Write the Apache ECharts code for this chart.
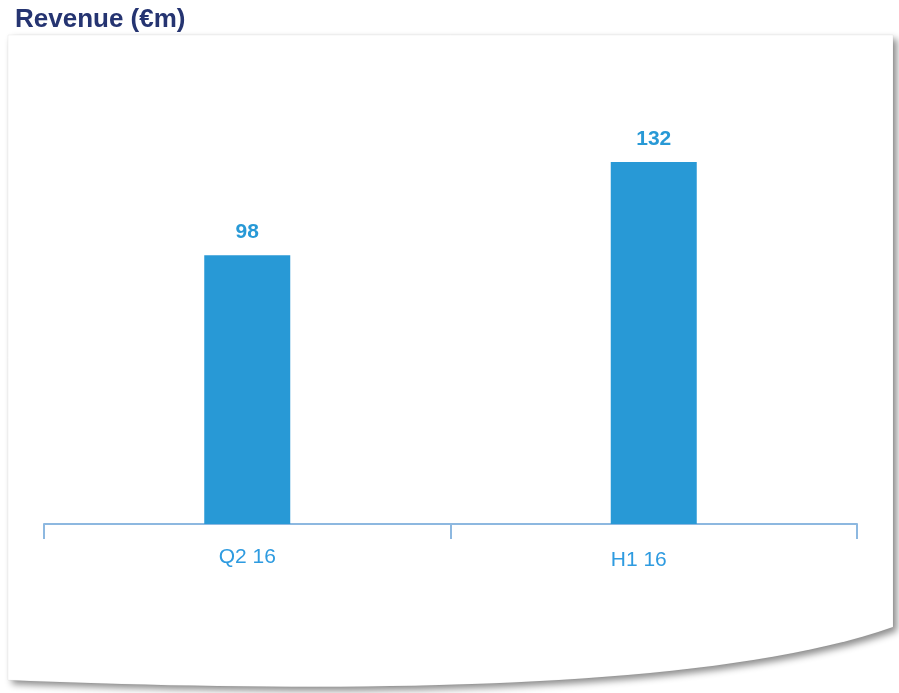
<!DOCTYPE html>
<html>
<head>
<meta charset="utf-8">
<script src="https://cdn.jsdelivr.net/npm/echarts@6/dist/echarts.min.js"></script>
<style>
html,body{margin:0;padding:0;background:#fff;}
#c{width:899px;height:693px;}
</style>
</head>
<body>
<div id="c"></div>
<script>
const titleText = 'Revenue (€m)';
const categories = ['Q2 16', 'H1 16'];
const revenue = [98, 132];

// decorative card outline (curved bottom edge)
function cardPoints() {
  const pts = [[8, 35], [893, 35], [893, 627]];
  const p0 = [893, 627], c1 = [700, 695], c2 = [300, 692], p3 = [8, 680];
  for (let i = 1; i <= 40; i++) {
    const t = i / 40, u = 1 - t;
    const x = u*u*u*p0[0] + 3*u*u*t*c1[0] + 3*u*t*t*c2[0] + t*t*t*p3[0];
    const y = u*u*u*p0[1] + 3*u*u*t*c1[1] + 3*u*t*t*c2[1] + t*t*t*p3[1];
    pts.push([x, y]);
  }
  return pts;
}

const chart = echarts.init(document.getElementById('c'));
const blue = '#2899D6';
const catData = categories.map((c, i) => i === 1
  ? { value: c, textStyle: { padding: [3, 30, 0, 0] } }
  : c);
chart.setOption({
  backgroundColor: '#fff',
  animation: false,
  title: {
    text: titleText,
    left: 10, top: 2,
    textStyle: { color: '#253471', fontSize: 26, fontWeight: 'bold', fontFamily: 'Liberation Sans, Arial, sans-serif' }
  },
  graphic: [{
    type: 'polygon',
    z: -10,
    shape: { points: cardPoints() },
    style: {
      fill: '#fff',
      stroke: 'rgba(0,0,0,0.04)',
      lineWidth: 1,
      shadowBlur: 7,
      shadowColor: 'rgba(0,0,0,0.45)',
      shadowOffsetX: 4,
      shadowOffsetY: 4
    }
  }],
  grid: { left: 44, right: 42, top: 140, bottom: 169 },
  xAxis: {
    type: 'category',
    data: catData,
    axisLine: { lineStyle: { color: '#8DB8E0', width: 2 } },
    axisTick: { show: true, length: 15, lineStyle: { color: '#8DB8E0', width: 2 } },
    axisLabel: { color: '#2E9BE0', fontSize: 21, margin: 23, fontFamily: 'Liberation Sans, Arial, sans-serif' }
  },
  yAxis: {
    type: 'value', min: 0, max: 140,
    show: false,
    splitLine: { show: false }
  },
  series: [{
    type: 'bar',
    data: revenue,
    barWidth: 86,
    itemStyle: { color: blue },
    label: {
      show: true, position: 'top', distance: 12,
      color: blue, fontSize: 21, fontWeight: 'bold',
      fontFamily: 'Liberation Sans, Arial, sans-serif'
    }
  }]
});
</script>
</body>
</html>
